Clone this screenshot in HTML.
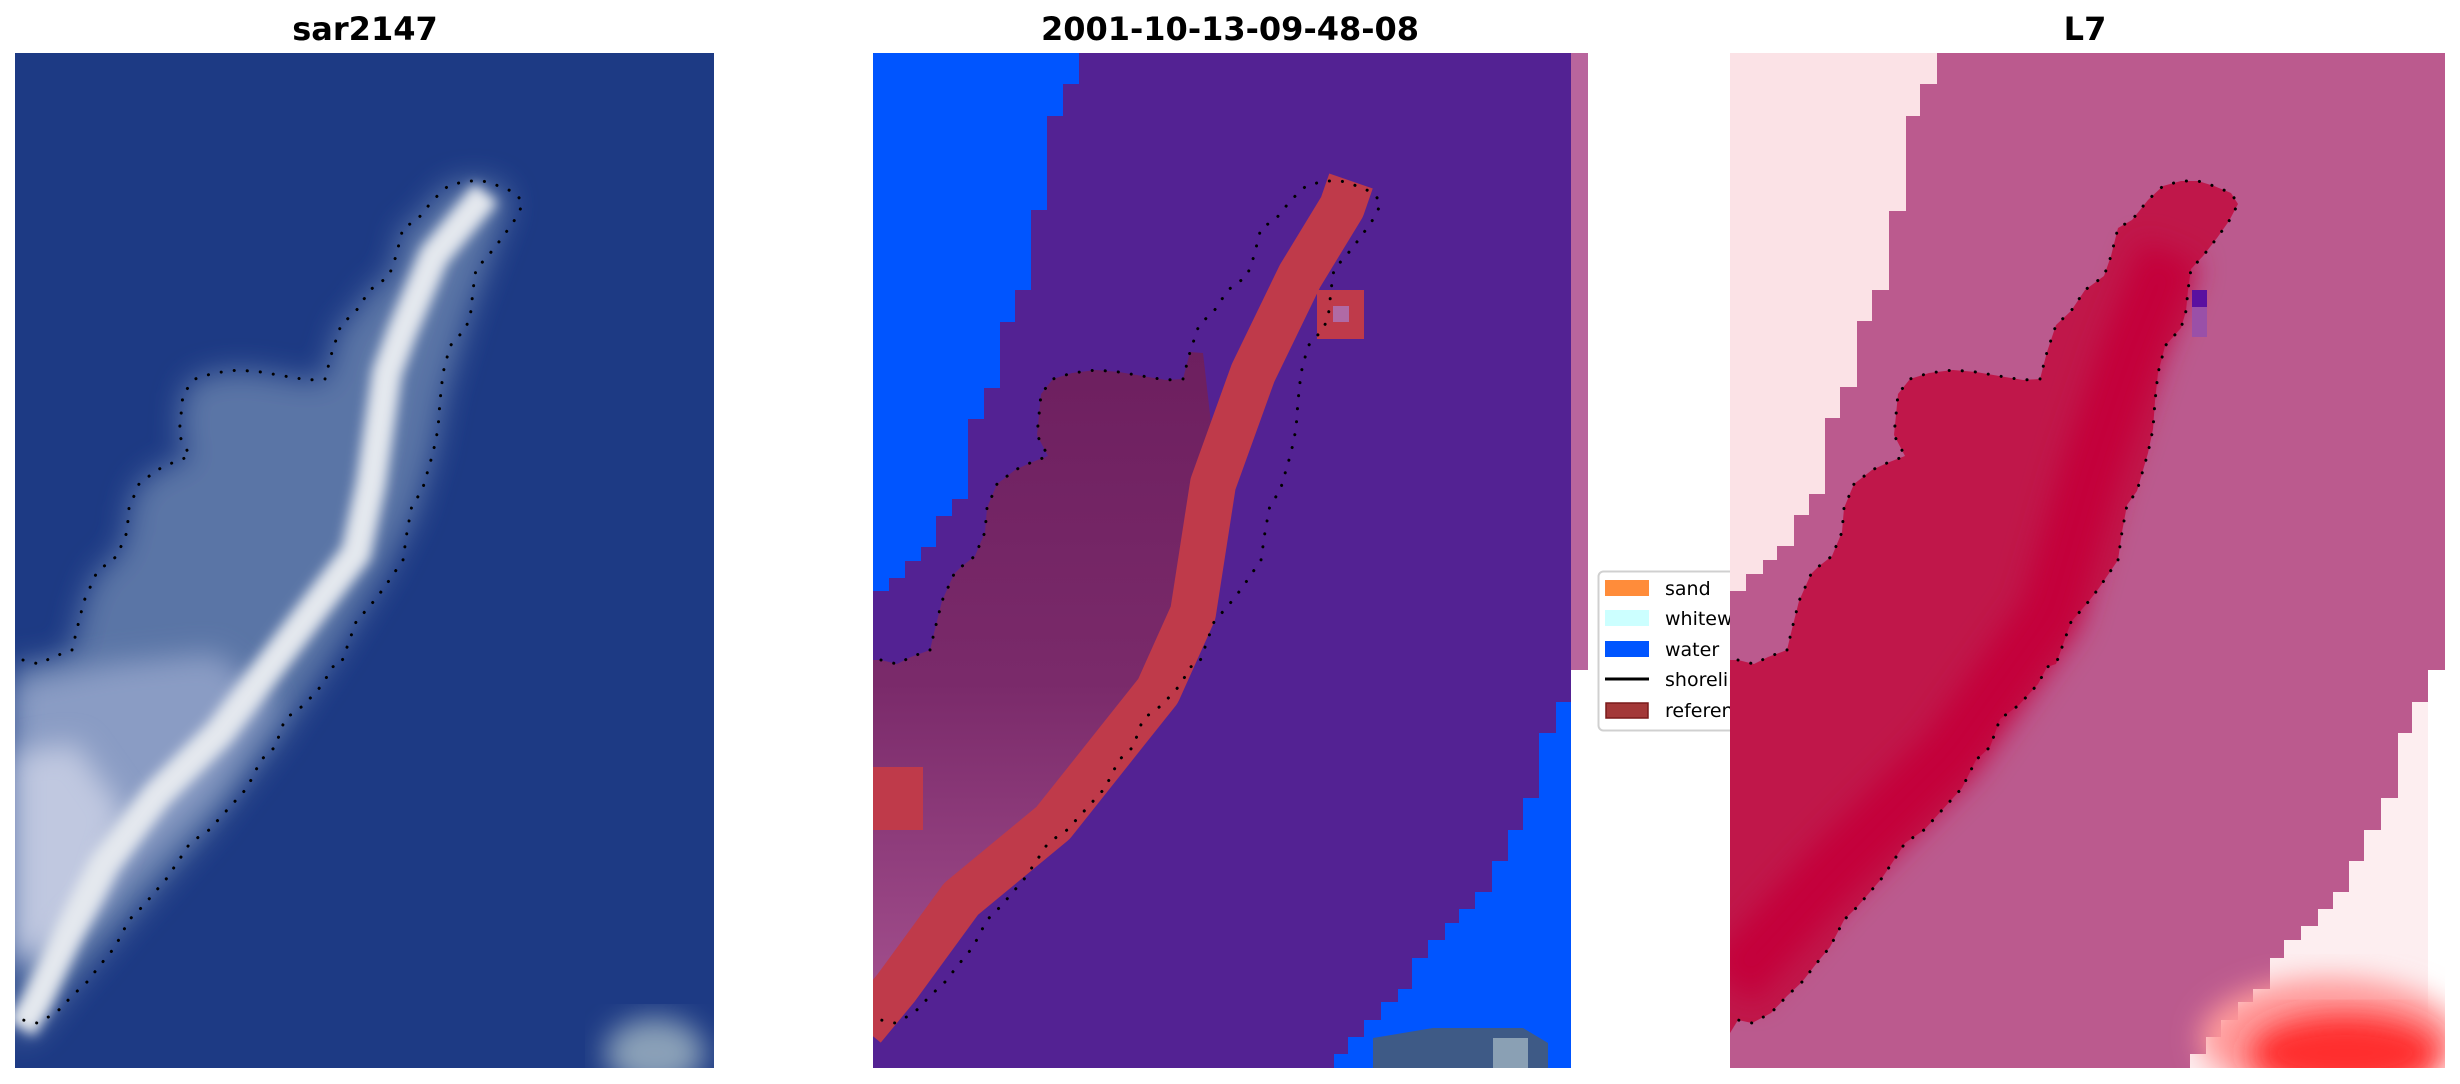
<!DOCTYPE html>
<html><head><meta charset="utf-8"><style>
html,body{margin:0;padding:0;background:#fff;}
svg{display:block;}
</style></head><body>
<svg width="2460" height="1084" viewBox="0 0 2460 1084" xmlns="http://www.w3.org/2000/svg">
<defs>
<clipPath id="cp"><rect x="0" y="0" width="715" height="1015"/></clipPath>
<clipPath id="cp1"><rect x="0" y="0" width="699" height="1015"/></clipPath>
<filter id="bl" x="-20%" y="-20%" width="140%" height="140%"><feGaussianBlur stdDeviation="14"/></filter>
<filter id="bl2" x="-20%" y="-20%" width="140%" height="140%"><feGaussianBlur stdDeviation="6"/></filter>
<linearGradient id="mg" x1="0" y1="0" x2="0" y2="1">
<stop offset="0" stop-color="#6d1f5f"/><stop offset="0.5" stop-color="#7a2a6a"/><stop offset="1" stop-color="#a4508e"/></linearGradient>
</defs>
<g font-family="'DejaVu Sans','Liberation Sans',sans-serif" font-weight="bold" font-size="32" text-anchor="middle" fill="#000">
<text x="365" y="40">sar2147</text>
<text x="1230" y="40">2001-10-13-09-48-08</text>
<text x="2085" y="40">L7</text>
</g>

<!-- Panel 1 -->
<g transform="translate(15,53)" clip-path="url(#cp1)">
<rect x="0" y="0" width="715" height="1015" fill="#1d3a84"/>
<polygon filter="url(#bl)" fill="#5a74a6" points="0,607 8,607 24,611 38,604 57,597 62,576 69,548 81,521 88,514 102,503 112,479 114,455 124,431 142,417 157,410 175,403 164,382 166,362 168,341 180,326 199,320 223,317 246,319 275,324 293,327 310,326 317,299 326,272 341,258 355,237 374,223 381,203 388,175 402,167 418,147 433,133 451,128 468,128 484,133 495,150 480,190 455,258 430,340 418,400 400,460 370,520 320,600 260,690 190,780 120,860 60,930 20,980 0,990"/>
<polygon filter="url(#bl)" fill="#8a9cc4" points="0,630 100,610 200,600 260,650 200,740 120,820 40,900 0,920"/>
<polygon filter="url(#bl)" fill="#c0c8e0" points="0,700 60,690 110,760 80,850 30,900 0,900"/>
<polyline filter="url(#bl2)" fill="none" stroke="#e4e8ee" stroke-width="30" points="471,140 419,203 387,279 372,320 356,431 341,500 299,555 236,638 204,680 142,742 89,811 53,880 21,950 6,975"/>
<ellipse filter="url(#bl)" cx="640" cy="1000" rx="50" ry="35" fill="#8aa0b8"/>
</g>

<!-- Legend (under panel 3) -->
<g>
<rect x="1598.5" y="571.5" width="200" height="159" rx="5" fill="#fff" stroke="#d0d0d0" stroke-width="2"/>
<rect x="1605" y="580" width="44" height="16" fill="#ff8c3a"/>
<rect x="1605" y="610" width="44" height="16" fill="#ccffff"/>
<rect x="1605" y="641" width="44" height="16" fill="#0055ff"/>
<line x1="1605" y1="679" x2="1649" y2="679" stroke="#000" stroke-width="3"/>
<rect x="1606" y="703" width="42" height="15" fill="#a33838" stroke="#7a1a1a" stroke-width="1.5"/>
<g font-family="'DejaVu Sans','Liberation Sans',sans-serif" font-size="19" fill="#000">
<text x="1665" y="595">sand</text>
<text x="1665" y="625">whitewater</text>
<text x="1665" y="656">water</text>
<text x="1665" y="686">shoreline</text>
<text x="1665" y="717">reference</text>
</g>
</g>

<!-- Panel 2 -->
<g transform="translate(873,53)" clip-path="url(#cp)">
<rect x="0" y="0" width="715" height="1015" fill="#532293"/>
<rect x="698" y="0" width="17" height="617" fill="#b9659d"/>
<rect x="698" y="617" width="17" height="400" fill="#fff"/>
<polygon fill="#0055ff" points="0,0 206,0 206,31 190,31 190,63 174,63 174,157 158,157 158,237 142,237 142,269 127,269 127,335 111,335 111,366 95,366 95,446 79,446 79,463 63,463 63,494 48,494 48,508 32,508 32,525 16,525 16,538 0,538"/>
<polygon fill="#0055ff" points="698,649 683,649 683,680 666,680 666,745 650,745 650,777 635,777 635,808 619,808 619,839 602,839 602,856 586,856 586,870 572,870 572,887 555,887 555,905 539,905 539,936 525,936 525,949 508,949 508,967 491,967 491,984 475,984 475,1001 461,1001 461,1015 698,1015"/>
<polygon fill="#3e5a86" points="500,1015 500,985 560,975 650,975 675,990 675,1015"/>
<rect x="620" y="985" width="35" height="30" fill="#8aa0b4"/>
<polygon fill="url(#mg)" points="0,607 8,607 24,611 38,604 57,597 62,576 69,548 81,521 88,514 102,503 112,479 114,455 124,431 142,417 157,410 175,403 164,382 166,362 168,341 180,326 199,320 223,317 246,319 275,324 293,327 310,326 317,299 330,300 345,431 320,560 285,638 180,770 88,846 23,940 0,960"/>
<polyline fill="none" stroke="#bf3a4a" stroke-width="46" stroke-linejoin="round" points="-10,975 23,935 88,846 180,770 285,638 320,560 340,431 380,320 427,223 469,154 478,128"/>
<rect x="0" y="714" width="50" height="63" fill="#bf3a4a"/>
<rect x="444" y="237" width="47" height="49" fill="#bf3a4a"/>
<rect x="460" y="253" width="16" height="16" fill="#b06aa5"/>
</g>

<!-- Panel 3 -->
<g transform="translate(1730,53)" clip-path="url(#cp)">
<rect x="0" y="0" width="715" height="1015" fill="#bb5a8e"/>
<rect x="698" y="617" width="17" height="400" fill="#fff"/>
<polygon fill="#fbe2e6" points="0,0 207,0 207,31 190,31 190,63 176,63 176,158 159,158 159,237 142,237 142,268 127,268 127,334 110,334 110,365 95,365 95,441 79,441 79,462 64,462 64,493 47,493 47,507 33,507 33,521 16,521 16,538 0,538"/>
<polygon fill="#fdeef0" points="698,649 682,649 682,680 668,680 668,745 651,745 651,777 634,777 634,808 619,808 619,839 603,839 603,856 588,856 588,873 571,873 571,887 554,887 554,905 540,905 540,936 523,936 523,949 508,949 508,967 491,967 491,984 476,984 476,1001 460,1001 460,1015 698,1015"/>
<ellipse filter="url(#bl)" cx="600" cy="985" rx="130" ry="60" fill="#ff9a9a"/>
<ellipse filter="url(#bl)" cx="615" cy="1000" rx="95" ry="38" fill="#ff2e2e"/>
<polygon fill="#c0174a" points="0,607 8,607 24,611 38,604 57,597 62,576 69,548 81,521 88,514 102,503 112,479 114,455 124,431 142,417 157,410 175,403 164,382 166,362 168,341 180,326 199,320 223,317 246,319 275,324 293,327 310,326 317,299 326,272 341,258 355,237 374,223 381,203 388,175 402,167 418,147 433,133 451,128 468,128 484,133 501,140 508,151 499,168 487,185 473,203 461,216 458,237 456,258 451,275 435,293 428,320 425,348 423,376 418,400 411,424 407,438 397,452 392,479 388,507 369,535 359,548 341,569 326,611 317,614 308,631 289,652 270,666 260,694 246,707 232,735 213,756 194,777 175,790 166,804 152,825 128,853 114,867 100,894 86,911 72,929 57,943 41,960 22,970 8,967 0,980"/>
<polyline filter="url(#bl)" fill="none" stroke="#c4063a" stroke-width="60" points="0,930 100,820 220,700 320,560 360,420 400,300 440,200"/>
<rect x="462" y="237" width="15" height="17" fill="#5a10a0"/>
<rect x="462" y="254" width="15" height="30" fill="#9a50a8"/>
</g>

<!-- Shorelines -->
<g fill="none" stroke="#000" stroke-width="3" stroke-dasharray="0.1 13" stroke-linecap="round">
<polyline transform="translate(15,53)" points="8,607 24,611 38,604 57,597 62,576 69,548 81,521 88,514 102,503 112,479 114,455 124,431 142,417 157,410 175,403 164,382 166,362 168,341 180,326 199,320 223,317 246,319 275,324 293,327 310,326 317,299 326,272 341,258 355,237 374,223 381,203 388,175 402,167 418,147 433,133 451,128 468,128 484,133 501,140 508,151 499,168 487,185 473,203 461,216 458,237 456,258 451,275 435,293 428,320 425,348 423,376 418,400 411,424 407,438 397,452 392,479 388,507 369,535 359,548 341,569 326,611 317,614 308,631 289,652 270,666 260,694 246,707 232,735 213,756 194,777 175,790 166,804 152,825 128,853 114,867 100,894 86,911 72,929 57,943 41,960 22,970 8,967"/>
<polyline transform="translate(873,53)" points="8,607 24,611 38,604 57,597 62,576 69,548 81,521 88,514 102,503 112,479 114,455 124,431 142,417 157,410 175,403 164,382 166,362 168,341 180,326 199,320 223,317 246,319 275,324 293,327 310,326 317,299 326,272 341,258 355,237 374,223 381,203 388,175 402,167 418,147 433,133 451,128 468,128 484,133 501,140 508,151 499,168 487,185 473,203 461,216 458,237 456,258 451,275 435,293 428,320 425,348 423,376 418,400 411,424 407,438 397,452 392,479 388,507 369,535 359,548 341,569 326,611 317,614 308,631 289,652 270,666 260,694 246,707 232,735 213,756 194,777 175,790 166,804 152,825 128,853 114,867 100,894 86,911 72,929 57,943 41,960 22,970 8,967"/>
<polyline transform="translate(1730,53)" points="8,607 24,611 38,604 57,597 62,576 69,548 81,521 88,514 102,503 112,479 114,455 124,431 142,417 157,410 175,403 164,382 166,362 168,341 180,326 199,320 223,317 246,319 275,324 293,327 310,326 317,299 326,272 341,258 355,237 374,223 381,203 388,175 402,167 418,147 433,133 451,128 468,128 484,133 501,140 508,151 499,168 487,185 473,203 461,216 458,237 456,258 451,275 435,293 428,320 425,348 423,376 418,400 411,424 407,438 397,452 392,479 388,507 369,535 359,548 341,569 326,611 317,614 308,631 289,652 270,666 260,694 246,707 232,735 213,756 194,777 175,790 166,804 152,825 128,853 114,867 100,894 86,911 72,929 57,943 41,960 22,970 8,967"/>
</g>
</svg>
</body></html>
